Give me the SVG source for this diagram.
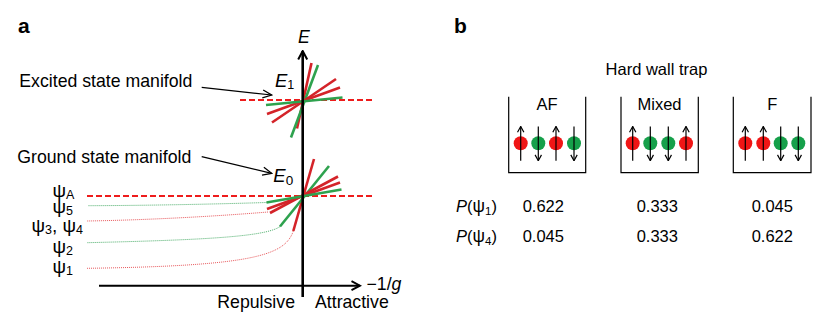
<svg xmlns="http://www.w3.org/2000/svg" width="830" height="329" viewBox="0 0 830 329">
<style>
text{font-family:"Liberation Sans",Arial,Helvetica,sans-serif;fill:#000}
.a{font-size:17.7px}
.b{font-size:16.5px}
.psi{font-size:19px}
.sub{font-size:12.5px}
.panel{font-size:21px;font-weight:bold}
.it{font-style:italic}
.axis{stroke:#000;stroke-width:2.6;fill:none}
.haxis{stroke:#000;stroke-width:2;fill:none}
.ptr{stroke:#000;stroke-width:1.2;fill:none}
.dash{stroke:#ee1c1c;stroke-width:2;stroke-dasharray:6 3;fill:none}
.fr{stroke:#d42329;stroke-width:2.6;fill:none}
.fg{stroke:#2ea24e;stroke-width:2.6;fill:none}
.dr{stroke:#e8585c;stroke-width:1;stroke-dasharray:1 1;fill:none}
.dg{stroke:#4cae6a;stroke-width:1;stroke-dasharray:1 1;fill:none}
.box{stroke:#000;stroke-width:1.2;fill:none}
.spin{stroke:#000;stroke-width:1.2;fill:none}
.cr{fill:#f01515}
.cg{fill:#16a04a}
</style>
<defs>
<marker id="ahBig" viewBox="0 0 12 12" refX="10.5" refY="6" markerWidth="12" markerHeight="12" markerUnits="userSpaceOnUse" orient="auto">
<path d="M2,1.5 L10.5,6 L2,10.5" fill="none" stroke="#000" stroke-width="2"/>
</marker>
<marker id="ahPtr" viewBox="0 0 12 12" refX="11" refY="6" markerWidth="12" markerHeight="12" markerUnits="userSpaceOnUse" orient="auto">
<path d="M2,2 L11,6 L2,10" fill="none" stroke="#000" stroke-width="1.3"/>
</marker>
<marker id="ahSpin" viewBox="0 0 8 8" refX="7.3" refY="4" markerWidth="8" markerHeight="8" markerUnits="userSpaceOnUse" orient="auto">
<path d="M1.5,0.8 L7.3,4 L1.5,7.2" fill="none" stroke="#000" stroke-width="1.2"/>
</marker>
</defs>

<g id="panel-a">
<text class="panel" x="18" y="33">a</text>

<g id="dashed-levels">
<line class="dash" x1="240" y1="100" x2="375" y2="100"/>
<line class="dash" x1="87" y1="196" x2="375" y2="196"/>
</g>

<g id="excited-fan">
<line class="fr" x1="311.5" y1="63" x2="297" y2="128.5"/>
<line class="fg" x1="318" y1="65" x2="291" y2="137.5"/>
<line class="fr" x1="336" y1="79" x2="272" y2="122.5"/>
<line class="fr" x1="340" y1="87.5" x2="267" y2="114"/>
<line class="fg" x1="342.5" y1="97.5" x2="266" y2="105"/>
</g>

<g id="ground-fan">
<path class="dg" d="M266.5,202.5 C220,204 150,205.5 88,205.7"/>
<path class="dr" d="M268,212 C220,216 150,220 87,221"/>
<path class="dg" d="M280,226.5 C266,237 200,240 87,242.7"/>
<path class="dr" d="M293.3,231 C285,255 255,266 87,268.3"/>
<line class="fr" x1="314" y1="159" x2="293.3" y2="231"/>
<line class="fg" x1="329" y1="166" x2="280" y2="226.5"/>
<line class="fr" x1="338" y1="176.5" x2="270" y2="213"/>
<line class="fr" x1="340" y1="182.5" x2="267" y2="209"/>
<line class="fg" x1="341.5" y1="189.5" x2="266.5" y2="202.5"/>
</g>

<g id="connectors">
<line class="axis" x1="302.7" y1="297" x2="302.7" y2="51" marker-end="url(#ahBig)"/>
<line class="haxis" x1="99" y1="285.7" x2="360" y2="285.7" marker-end="url(#ahBig)"/>
<line class="ptr" x1="201.7" y1="87.3" x2="271.7" y2="95" marker-end="url(#ahPtr)"/>
<line class="ptr" x1="201.7" y1="156.7" x2="271.7" y2="173.3" marker-end="url(#ahPtr)"/>
</g>

<g id="axis-labels">
<text class="a it" x="298" y="42.7">E</text>
<text class="a" x="366.5" y="290">−1/<tspan class="it">g</tspan></text>
<text class="a" x="217.3" y="308.3">Repulsive</text>
<text class="a" x="315" y="308.3">Attractive</text>
</g>

<g id="manifold-labels">
<text class="a" x="19.3" y="87">Excited state manifold</text>
<text class="a" x="17.3" y="163">Ground state manifold</text>
<text x="275" y="86.7" style="font-size:18.5px" class="it">E<tspan style="font-size:12.5px;font-style:normal" dy="2">1</tspan></text>
<text x="273.3" y="181.7" style="font-size:18.5px" class="it">E<tspan style="font-size:13.5px;font-style:normal" dy="3">0</tspan></text>
</g>

<g id="state-labels">
<text class="psi" x="52.5" y="196.5">ψ<tspan class="sub" dy="2">A</tspan></text>
<text class="psi" x="52.5" y="213">ψ<tspan class="sub" dy="2">5</tspan></text>
<text class="psi" x="31.5" y="232">ψ<tspan class="sub" dy="2">3</tspan><tspan dy="-2">, ψ</tspan><tspan class="sub" dy="2">4</tspan></text>
<text class="psi" x="52.5" y="252.5">ψ<tspan class="sub" dy="2">2</tspan></text>
<text class="psi" x="52.5" y="273">ψ<tspan class="sub" dy="2">1</tspan></text>
</g>
</g>

<g id="panel-b">
<text class="panel" x="454" y="33">b</text>
<text class="b" x="656.5" y="75" text-anchor="middle">Hard wall trap</text>

<g id="box-AF">
<path class="box" d="M508.7,96.7 V172.7 H585.7 V96.7"/>
<text class="b" x="547" y="110" text-anchor="middle">AF</text>
<circle class="cr" cx="520.7" cy="143.3" r="7"/>
<circle class="cg" cx="538.3" cy="143.3" r="7"/>
<circle class="cr" cx="556" cy="143.3" r="7"/>
<circle class="cg" cx="574" cy="143.3" r="7"/>
<line class="spin" x1="520.7" y1="160.7" x2="520.7" y2="126.5" marker-end="url(#ahSpin)"/>
<line class="spin" x1="538.3" y1="126.5" x2="538.3" y2="160.7" marker-end="url(#ahSpin)"/>
<line class="spin" x1="556" y1="160.7" x2="556" y2="126.5" marker-end="url(#ahSpin)"/>
<line class="spin" x1="574" y1="126.5" x2="574" y2="160.7" marker-end="url(#ahSpin)"/>
</g>

<g id="box-Mixed">
<path class="box" d="M621,96.7 V172.7 H698.3 V96.7"/>
<text class="b" x="659.5" y="110" text-anchor="middle">Mixed</text>
<circle class="cr" cx="632.7" cy="143.3" r="7"/>
<circle class="cg" cx="650.3" cy="143.3" r="7"/>
<circle class="cg" cx="668.3" cy="143.3" r="7"/>
<circle class="cr" cx="686" cy="143.3" r="7"/>
<line class="spin" x1="632.7" y1="160.7" x2="632.7" y2="126.5" marker-end="url(#ahSpin)"/>
<line class="spin" x1="650.3" y1="126.5" x2="650.3" y2="160.7" marker-end="url(#ahSpin)"/>
<line class="spin" x1="668.3" y1="126.5" x2="668.3" y2="160.7" marker-end="url(#ahSpin)"/>
<line class="spin" x1="686" y1="160.7" x2="686" y2="126.5" marker-end="url(#ahSpin)"/>
</g>

<g id="box-F">
<path class="box" d="M733.3,96.7 V172.7 H811 V96.7"/>
<text class="b" x="772.3" y="110" text-anchor="middle">F</text>
<circle class="cr" cx="745.3" cy="143.3" r="7"/>
<circle class="cr" cx="763.3" cy="143.3" r="7"/>
<circle class="cg" cx="780.7" cy="143.3" r="7"/>
<circle class="cg" cx="798.3" cy="143.3" r="7"/>
<line class="spin" x1="745.3" y1="160.7" x2="745.3" y2="126.5" marker-end="url(#ahSpin)"/>
<line class="spin" x1="763.3" y1="160.7" x2="763.3" y2="126.5" marker-end="url(#ahSpin)"/>
<line class="spin" x1="780.7" y1="126.5" x2="780.7" y2="160.7" marker-end="url(#ahSpin)"/>
<line class="spin" x1="798.3" y1="126.5" x2="798.3" y2="160.7" marker-end="url(#ahSpin)"/>
</g>

<g id="table">
<text class="b" x="456" y="211.7"><tspan class="it">P</tspan>(<tspan style="font-size:17.5px">ψ</tspan><tspan style="font-size:11.5px" dy="3">1</tspan><tspan dy="-3">)</tspan></text>
<text class="b" x="522.7" y="211.7">0.622</text>
<text class="b" x="636.7" y="211.7">0.333</text>
<text class="b" x="751.7" y="211.7">0.045</text>
<text class="b" x="456" y="241.7"><tspan class="it">P</tspan>(<tspan style="font-size:17.5px">ψ</tspan><tspan style="font-size:11.5px" dy="3">4</tspan><tspan dy="-3">)</tspan></text>
<text class="b" x="522.7" y="241.7">0.045</text>
<text class="b" x="636.7" y="241.7">0.333</text>
<text class="b" x="751.7" y="241.7">0.622</text>
</g>
</g>
</svg>
